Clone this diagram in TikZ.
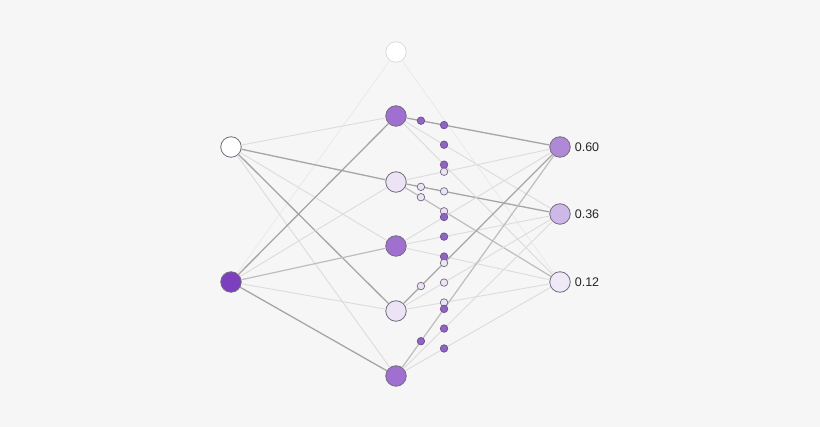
\documentclass[tikz,border=0pt]{standalone}
\usepackage{fontspec}
\setmainfont{Liberation Sans}
\usetikzlibrary{calc}
\definecolor{bg}{HTML}{F6F6F6}
\definecolor{rim}{HTML}{726A7C}
\definecolor{inpurple}{HTML}{7C40BE}
\definecolor{hpurple}{HTML}{9F70D0}
\definecolor{hpale}{HTML}{ECE4F5}
\definecolor{outa}{HTML}{AF88D8}
\definecolor{outb}{HTML}{CDB9E8}
\definecolor{outc}{HTML}{EFE8F7}
\definecolor{edgedark}{HTML}{A6A6A6}
\definecolor{edgemid}{HTML}{BDBDBD}
\definecolor{edgelight}{HTML}{DCDCDC}
\definecolor{edgefaint}{HTML}{E8E8E8}
\definecolor{dotpurple}{HTML}{8F66BF}
\definecolor{dotrim}{HTML}{6C4F92}
\begin{document}
\begin{tikzpicture}[x=1pt,y=-1pt,
    neuron/.style={circle,draw=rim,line width=0.8pt,minimum size=20.5pt,inner sep=0pt},
    pulse/.style={circle,line width=0.7pt,minimum size=7.5pt,inner sep=0pt},
    weak/.style={edgelight,line width=0.9pt},
    mid/.style={edgemid,line width=1.2pt},
    strong/.style={edgedark,line width=1.3pt},
    faint/.style={edgefaint,line width=0.7pt},
    value/.style={anchor=west,font=\fontsize{12.5}{14}\selectfont,text=black!85,inner sep=1pt}]
  \fill[bg] (0,0) rectangle (820,427);
  % layers
  \node[neuron,fill=white] (i1) at (231,147) {};
  \node[neuron,fill=inpurple] (i2) at (231,282) {};
  \node[neuron,fill=white,draw=edgelight] (b) at (396,52) {};
  \node[neuron,fill=hpurple] (h1) at (396,116) {};
  \node[neuron,fill=hpale] (h2) at (396,182) {};
  \node[neuron,fill=hpurple] (h3) at (396,246) {};
  \node[neuron,fill=hpale] (h4) at (396,311) {};
  \node[neuron,fill=hpurple] (h5) at (396,376) {};
  \node[neuron,fill=outa] (o1) at (560,147) {};
  \node[neuron,fill=outb] (o2) at (560,214) {};
  \node[neuron,fill=outc] (o3) at (560,282) {};
  \node[value] (v1) at ([xshift=3pt]o1.east) {0.60};
  \node[value] (v2) at ([xshift=3pt]o2.east) {0.36};
  \node[value] (v3) at ([xshift=3pt]o3.east) {0.12};
  % bias
  \draw[faint] (b) -- (i2);
  \draw[faint] (b) -- (o3);
  % input to hidden
  \draw[weak] (i1) -- (h1);
  \draw[strong] (i1) -- (h2);
  \draw[weak] (i1) -- (h3);
  \draw[strong] (i1) -- (h4);
  \draw[weak] (i1) -- (h5);
  \draw[strong] (i2) -- (h1);
  \draw[weak] (i2) -- (h2);
  \draw[mid] (i2) -- (h3);
  \draw[weak] (i2) -- (h4);
  \draw[strong] (i2) -- (h5);
  % hidden to output
  \draw[strong] (h1) -- (o1);
  \draw[weak] (h1) -- (o2);
  \draw[weak] (h1) -- (o3);
  \draw[weak] (h2) -- (o1);
  \draw[strong] (h2) -- (o2);
  \draw[mid] (h2) -- (o3);
  \foreach \o in {o1,o2,o3}
    \draw[weak] (h3) -- (\o);
  \draw[strong] (h4) -- (o1);
  \draw[weak] (h4) -- (o2);
  \draw[weak] (h4) -- (o3);
  \draw[mid] (h5) -- (o1);
  \draw[weak] (h5) -- (o2);
  \draw[weak] (h5) -- (o3);
  % signals on the way out
  \foreach \h/\c/\r in {h1/dotpurple/dotrim,h2/hpale/rim,h3/dotpurple/dotrim,h4/hpale/rim,h5/dotpurple/dotrim}
    \foreach \o in {o1,o2,o3}
      \node[pulse,fill=\c,draw=\r] (far-\h-\o) at ($(\h)!0.293!(\o)$) {};
  \foreach \h/\o/\c/\r in {h1/o1/dotpurple/dotrim,h2/o2/hpale/rim,h2/o3/hpale/rim,h4/o1/hpale/rim,h5/o1/dotpurple/dotrim}
    \node[pulse,fill=\c,draw=\r] (near-\h-\o) at ($(\h)!0.152!(\o)$) {};
\end{tikzpicture}
\end{document}
